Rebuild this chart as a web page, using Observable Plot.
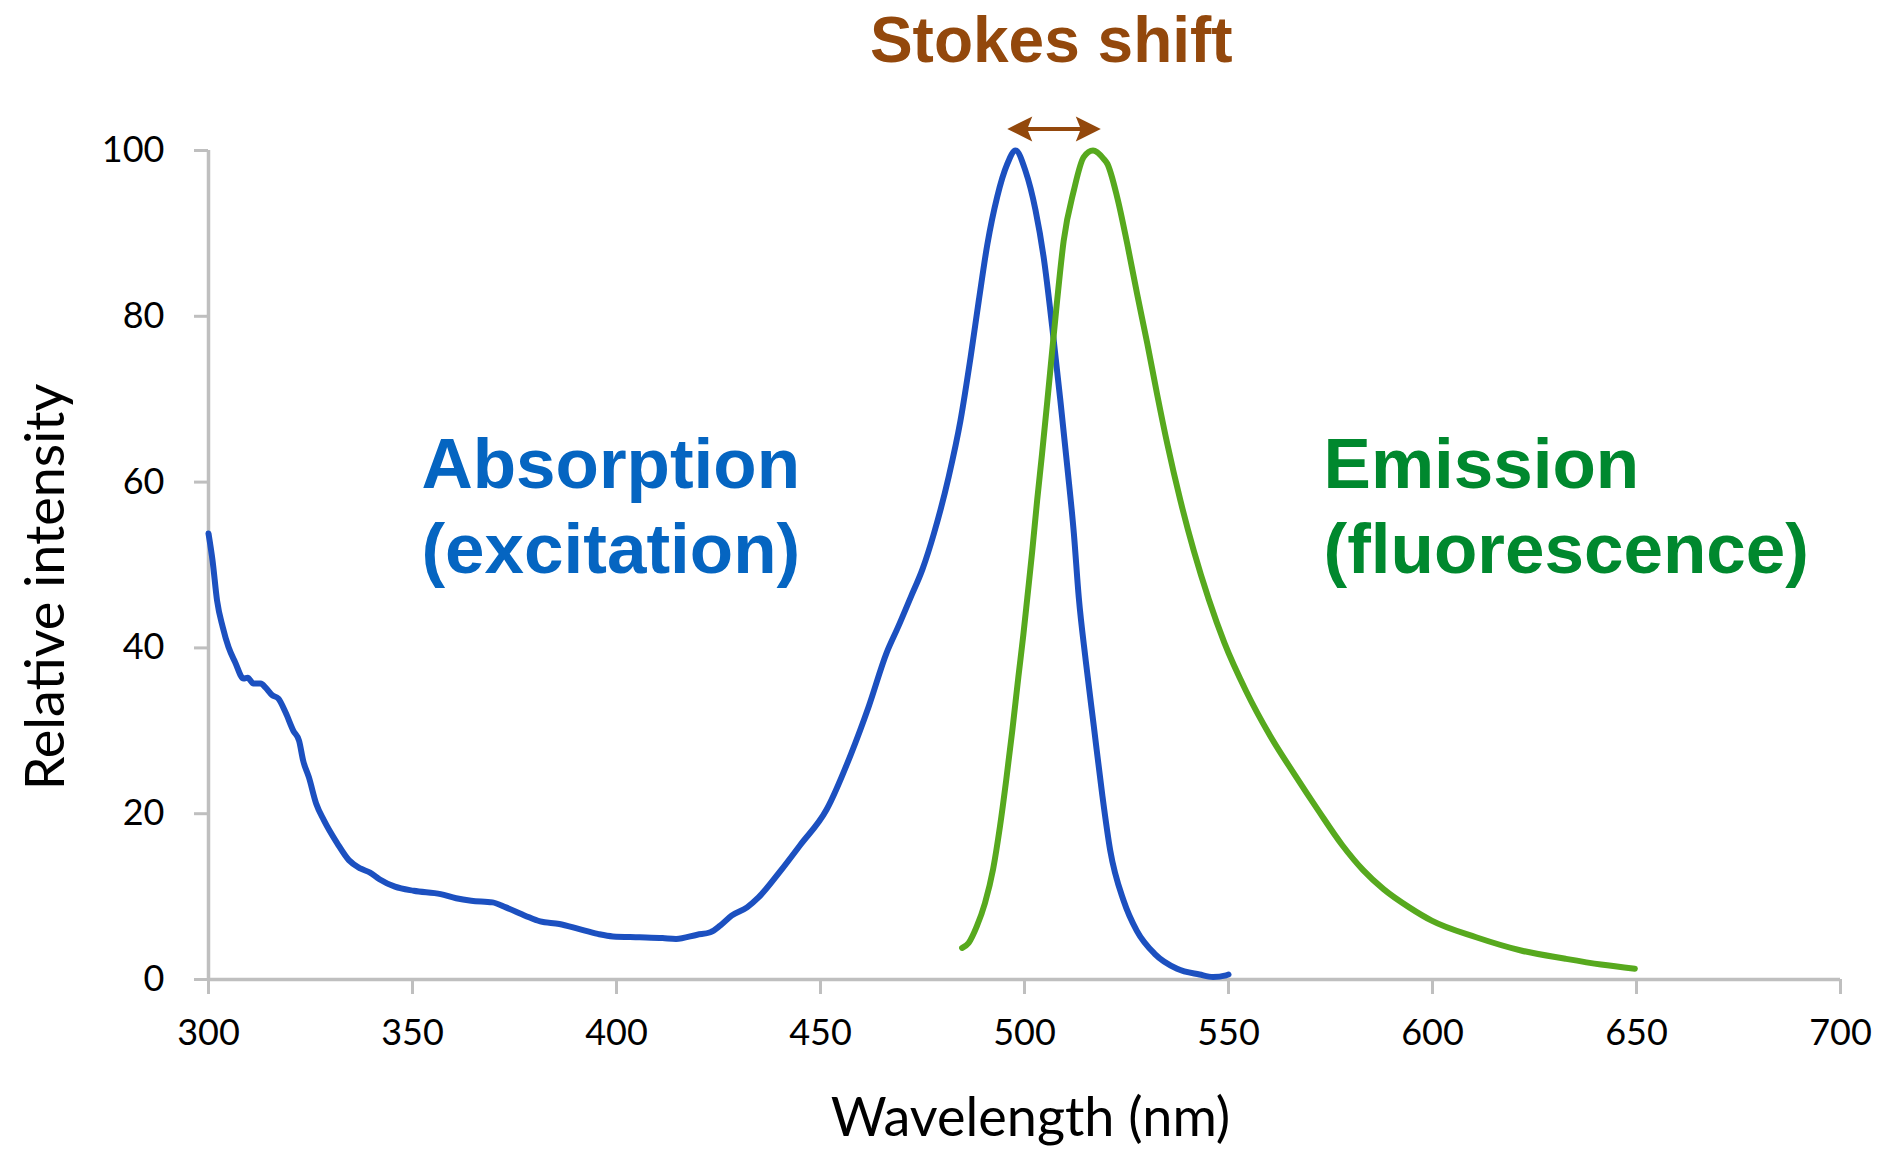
<!DOCTYPE html>
<html>
<head>
<meta charset="utf-8">
<script src="https://cdn.jsdelivr.net/npm/d3@7"></script>
<script src="https://cdn.jsdelivr.net/npm/@observablehq/plot@0.6"></script>
<style>
  html, body { margin: 0; padding: 0; background: #ffffff; }
  #chart { width: 1878px; height: 1150px; }
</style>
</head>
<body>
<div id="chart"></div>
<script>
// ---- Data ----
const absorptionWavelength = [
  300, 301, 302.1, 303.5, 304.9, 306.5, 308.6, 309.6, 311, 312.8, 314, 315.6, 317.1, 318.9,
  320.8, 322.2, 323.2, 324.6, 326.4, 328.3, 331.6, 334.4, 337.2, 339.6, 341.9, 345.7, 350.3,
  356.9, 360.7, 364.4, 369.6, 372.9, 377.6, 381.3, 386, 390.7, 395.4, 399.1, 405.7, 411.3,
  414.6, 419.8, 423, 425.4, 428.2, 432, 434.8, 440.2, 445, 451.5, 457.4, 461.8, 466.2, 469,
  472.1, 475, 477.8, 481.4, 484.3, 486.8, 488.8, 490.9, 493.3, 495.8, 497.8, 500.2, 502.7,
  504.7, 506.8, 508.8, 510.5, 512.1, 513.3, 515, 517, 519, 521, 524.3, 527.5, 531.9, 537.4,
  542.9, 546.2, 549.4, 550
];
const absorptionIntensity = [
  53.8, 50.5, 45.7, 42.5, 40.1, 38.3, 36.3, 36.4, 35.7, 35.7, 35.2, 34.3, 33.9, 32.2,
  30.0, 28.8, 26.4, 24.4, 21.2, 19.2, 16.4, 14.4, 13.4, 12.9, 12.1, 11.2, 10.7,
  10.3, 9.8, 9.5, 9.3, 8.7, 7.7, 7.0, 6.7, 6.1, 5.5, 5.2, 5.1, 5.0,
  4.9, 5.4, 5.7, 6.5, 7.7, 8.7, 9.9, 13.1, 16.2, 20.5, 27.1, 32.9, 39.4, 42.5,
  46.1, 49.5, 53.8, 60.6, 67.4, 75.1, 81.9, 88.7, 94.4, 98.4, 100, 97.6, 92.8,
  87.1, 78.7, 69.8, 61.8, 53.8, 46.1, 38.5, 30.5, 22.5, 15.6, 9.5, 5.9, 3.1, 1.3,
  0.6, 0.3, 0.5, 0.6
];
const emissionWavelength = [
  484.7, 486.3, 488.3, 490.3, 492.3, 494, 495.5, 497, 498.5, 499.7, 500.7, 501.9, 503.1, 504.3,
  505.6, 506.8, 508, 509.6, 512.1, 514.5, 516.8, 519.4, 520.3, 522.7, 525.2, 527.6, 530.1,
  532.5, 535, 538.2, 541.5, 545.2, 549, 554.3, 560.2, 566.1, 572, 577.9, 583, 588, 594.3,
  599.8, 610.7, 621.7, 632.6, 641.3, 649.6
];
const emissionIntensity = [
  3.8, 4.4, 6.4, 9.2, 13.3, 18.5, 24, 30, 36.5, 41.5, 46.1, 51.7, 57.8, 63.4,
  69.8, 75.9, 81.9, 89.1, 95.2, 99.2, 100, 99, 98.4, 94.4, 88.7, 82.7, 76.7,
  70.6, 64.6, 57.8, 51.7, 45.8, 40.6, 34.8, 29.4, 24.8, 20.4, 16.2, 13.2, 10.9, 8.7,
  7.1, 5.1, 3.5, 2.5, 1.8, 1.3
];
const xTicks = [300, 350, 400, 450, 500, 550, 600, 650, 700];
const yTicks = [0, 20, 40, 60, 80, 100];
const xDomain = [300, 700];
const yDomain = [0, 100];

// Annotations (in data units)
const annotationText = ["Absorption\n(excitation)", "Emission\n(fluorescence)"];
const annotationWavelength = [352.2, 573.3];
const annotationIntensity = [66.6, 66.6];
const titleText = "Stokes shift";
const titleIntensity = 113.1;
const arrowIntensity = 102.6;
const xLabel = "Wavelength (nm)";
const yLabel = "Relative intensity";

// ---- Styles ----
const blueLine = "#1c50c0";
const greenLine = "#57a91e";
const blueText = "#0565c1";
const greenText = "#00882e";
const brown = "#93480c";
const axisGray = "#bfbfbf";
const annotationColors = [blueText, greenText];

const absorption = absorptionWavelength.map((w, i) => ({w, v: absorptionIntensity[i]}));
const emission = emissionWavelength.map((w, i) => ({w, v: emissionIntensity[i]}));
const absPeak = d3.greatest(absorption, d => d.v).w;
const emPeak = d3.greatest(emission, d => d.v).w;
const annotations = annotationText.map((t, i) => ({
  t, w: annotationWavelength[i], v: annotationIntensity[i], c: annotationColors[i]
}));

// custom arrowhead symbols (r = half height of head)
const headLeft = {
  draw(ctx, size) {
    const r = Math.sqrt(size / Math.PI);
    ctx.moveTo(-0.66 * r, 0);
    ctx.lineTo(1.34 * r, -r);
    ctx.lineTo(0.94 * r, 0);
    ctx.lineTo(1.34 * r, r);
    ctx.closePath();
  }
};
const headRight = {
  draw(ctx, size) {
    const r = Math.sqrt(size / Math.PI);
    ctx.moveTo(0.62 * r, 0);
    ctx.lineTo(-1.38 * r, -r);
    ctx.lineTo(-0.98 * r, 0);
    ctx.lineTo(-1.38 * r, r);
    ctx.closePath();
  }
};

const chart = Plot.plot({
  width: 1878,
  height: 1150,
  marginLeft: 208,
  marginRight: 38,
  marginTop: 150,
  marginBottom: 171,
  style: {fontFamily: "Lato, sans-serif", background: "#ffffff", color: "#000000"},
  x: {domain: xDomain},
  y: {domain: yDomain},
  marks: [
    Plot.ruleX([xDomain[0]], {stroke: axisGray, strokeWidth: 3.5}),
    Plot.ruleY([yDomain[0]], {stroke: axisGray, strokeWidth: 3.5}),
    Plot.axisX(xTicks, {tickSize: 15, tickPadding: 25, stroke: axisGray, strokeWidth: 3, fill: "#000",
      fontSize: 36, tickFormat: d => String(d), label: null}),
    Plot.axisY(yTicks, {tickSize: 14, tickPadding: 30, stroke: axisGray, strokeWidth: 3, fill: "#000",
      fontSize: 36, tickFormat: d => String(d), label: null}),
    Plot.line(absorption, {x: "w", y: "v", stroke: blueLine, strokeWidth: 6, curve: "monotone-x",
      strokeLinecap: "round", strokeLinejoin: "round"}),
    Plot.line(emission, {x: "w", y: "v", stroke: greenLine, strokeWidth: 6, curve: "monotone-x",
      strokeLinecap: "round", strokeLinejoin: "round"}),
    Plot.text(annotations, {x: "w", y: "v", text: "t", fill: "c", textAnchor: "start", lineAnchor: "top",
      lineHeight: 1.2, fontSize: 71, fontWeight: "bold", fontFamily: "Liberation Sans, Arial, sans-serif"}),
    Plot.link([{x1: absPeak, x2: emPeak, y: arrowIntensity}], {x1: "x1", x2: "x2", y1: "y", y2: "y",
      stroke: brown, strokeWidth: 4}),
    Plot.dot([{x: absPeak, y: arrowIntensity}], {x: "x", y: "y", r: 12.5, symbol: headLeft, fill: brown, stroke: "none"}),
    Plot.dot([{x: emPeak, y: arrowIntensity}], {x: "x", y: "y", r: 12.5, symbol: headRight, fill: brown, stroke: "none"}),
    Plot.text([titleText], {x: (absPeak + emPeak) / 2, y: titleIntensity, text: d => d, dx: -3,
      textAnchor: "middle", lineAnchor: "middle", fontSize: 64, fontWeight: "bold",
      fontFamily: "Liberation Sans, Arial, sans-serif", fill: brown}),
    Plot.text([xLabel], {frameAnchor: "bottom", text: d => d, textAnchor: "middle", lineAnchor: "middle",
      dx: 6, dy: 139, fontSize: 54, fill: "#000"}),
    Plot.text([yLabel], {frameAnchor: "left", text: d => d, textAnchor: "middle", lineAnchor: "middle",
      rotate: -90, dx: -162, dy: 22, fontSize: 54, fill: "#000"})
  ]
});
document.getElementById("chart").appendChild(chart);
</script>
</body>
</html>
